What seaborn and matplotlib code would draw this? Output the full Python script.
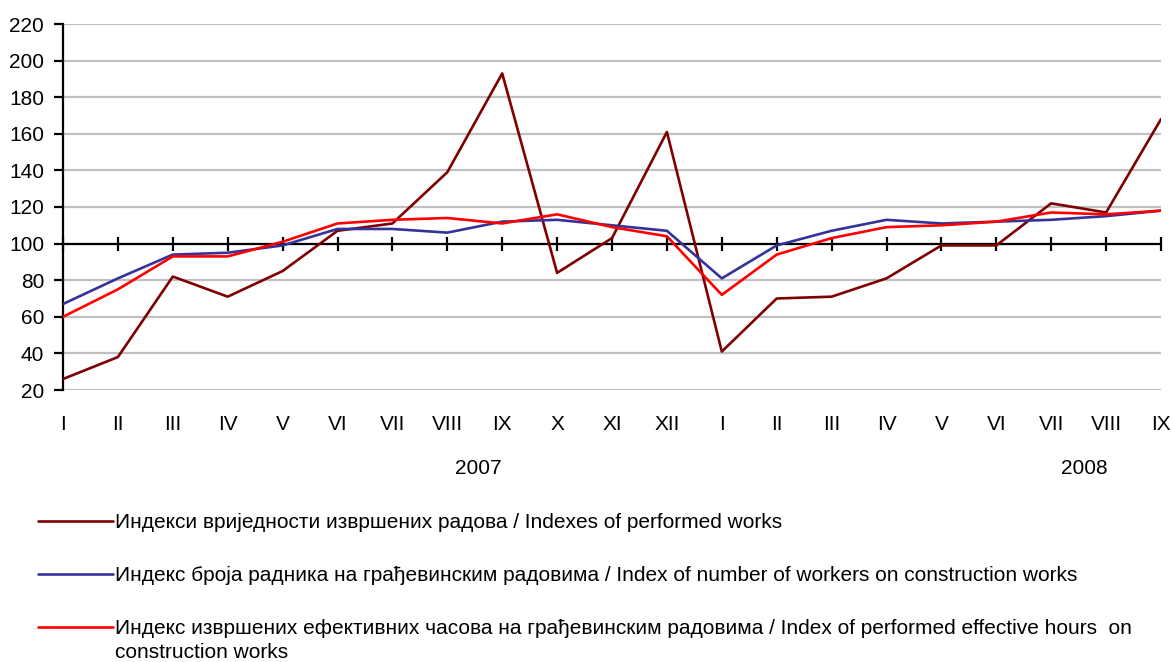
import matplotlib
matplotlib.use("Agg")
import matplotlib.pyplot as plt
import matplotlib.transforms as mtrans
from matplotlib.lines import Line2D
import seaborn as sns
import pandas as pd
import numpy as np

months = ["I", "II", "III", "IV", "V", "VI", "VII", "VIII", "IX", "X", "XI", "XII",
          "I", "II", "III", "IV", "V", "VI", "VII", "VIII", "IX"]
years = ["2007", "2008"]

performed_works = [26, 38, 82, 71, 85, 107, 111, 139, 193, 84, 103, 161,
                   41, 70, 71, 81, 99, 99, 122, 117, 168]
workers = [67, 81, 94, 95, 99, 108, 108, 106, 112, 113, 110, 107,
           81, 99, 107, 113, 111, 112, 113, 115, 118]
hours = [60, 75, 93, 93, 101, 111, 113, 114, 111, 116, 109, 104,
         72, 94, 103, 109, 110, 112, 117, 116, 118]

labels = [
    "Индекси вриједности извршених радова / Indexes of performed works",
    "Индекс броја радника на грађевинским радовима / Index of number of workers on construction works",
    "Индекс извршених ефективних часова на грађевинским радовима / Index of performed effective hours  on",
]
label3_cont = "construction works"
colors = ["#800000", "#333399", "#FF0000"]

sns.set_theme(style="white")
plt.rcParams["font.family"] = ["Liberation Sans", "DejaVu Sans"]

n = len(months)
df = pd.DataFrame({
    "pos": list(range(n)) * 3,
    "value": performed_works + workers + hours,
    "series": [labels[0]] * n + [labels[1]] * n + [labels[2]] * n,
})

fig = plt.figure(figsize=(11.72, 6.62), dpi=100)
W, H = 1172, 662
ax = fig.add_axes([63 / W, 1 - 390 / H, (1161 - 63) / W, (390 - 24) / H])

ax.set_ylim(20, 220)
ax.set_xlim(0, n - 1)
ax.set_yticks(np.arange(20, 221, 20))
ax.yaxis.grid(True, color="#C0C0C0", linewidth=1.6)
ax.xaxis.grid(False)
ax.set_axisbelow(True)

sns.lineplot(data=df, x="pos", y="value", hue="series", palette=colors,
             hue_order=labels, linewidth=1.9, ax=ax, sort=False, legend=False,
             zorder=3)

ax.axhline(100, color="black", linewidth=1.6, zorder=2)

for s in ["top", "right", "bottom"]:
    ax.spines[s].set_visible(False)
ax.spines["left"].set_color("black")
ax.spines["left"].set_linewidth(1.6)

ax.tick_params(axis="y", direction="out", length=6.5, width=1.6, color="black",
               pad=7, labelsize=15, labelcolor="black", left=True)
ax.set_xticks(range(n))
ax.set_xticklabels(months)
ax.tick_params(axis="x", length=0, pad=18, labelsize=15, labelcolor="black")
ax.set_xlabel("")
ax.set_ylabel("")

# crossing tick marks on the 100 line
sec = ax.secondary_xaxis((100 - 20) / 200)
sec.set_xticks(range(n))
sec.tick_params(axis="x", direction="inout", length=9.5, width=1.6, color="black",
                labelbottom=False, labeltop=False)
for s in sec.spines.values():
    s.set_visible(False)

# year labels
trans = mtrans.blended_transform_factory(ax.transData, fig.transFigure)
for yr, xp in zip(years, [7.56, 18.6]):
    ax.text(xp, 1 - 469 / H, yr, transform=trans, ha="center", va="center",
            fontsize=15, color="black")

handles = [Line2D([], [], color=c, linewidth=1.9) for c in colors]
fig.legend(handles, labels, loc="upper left", bbox_to_anchor=(38 / W, 1 - 513 / H),
           frameon=False, fontsize=15, handlelength=3.6, handletextpad=0.1,
           labelspacing=1.63, borderpad=0, borderaxespad=0, labelcolor="black")
fig.text(115 / W, 1 - 653 / H, label3_cont, ha="left", va="center",
         fontsize=15, color="black")

fig.savefig("out.png", dpi=100)
